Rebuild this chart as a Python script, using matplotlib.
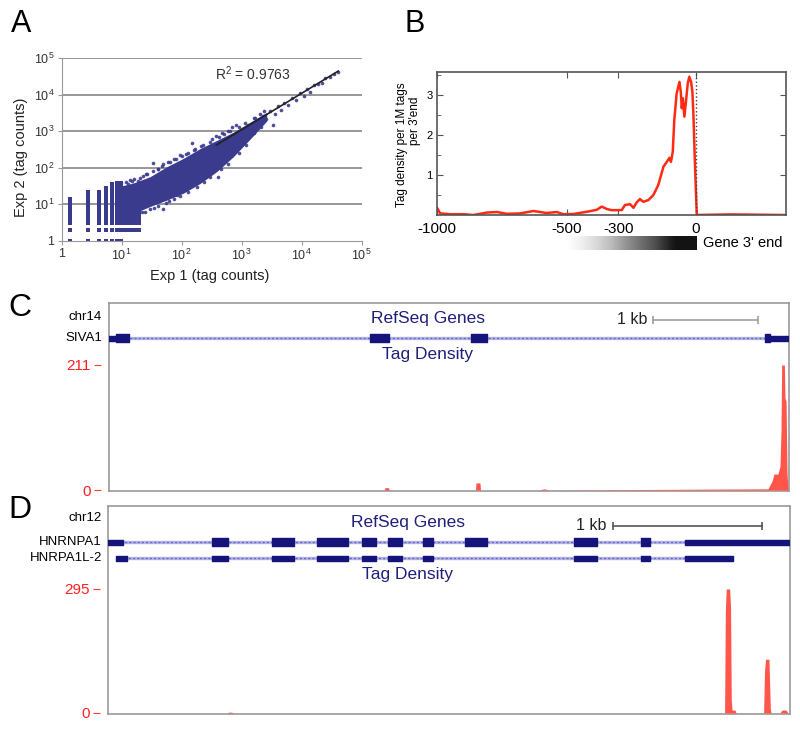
import numpy as np
import matplotlib
matplotlib.use('Agg')
import matplotlib.pyplot as plt

plt.rcParams['font.family'] = ['Liberation Sans', 'DejaVu Sans']
plt.rcParams['mathtext.default'] = 'regular'

# ---- panel A data (tag counts, log-log) ----
decades = [1, 10, 100, 1000, 10000, 100000]
dec_labels = ['1', '$10^1$', '$10^2$', '$10^3$', '$10^4$', '$10^5$']
# discrete low-count columns (normalised counts) and their integer y-range
col_x = [1.4, 2.8, 4.2, 5.6, 7.0, 8.4, 9.8, 11.2, 12.6, 14.0, 15.4, 16.8, 18.2, 19.6]
col_lo = [1, 1, 1, 1, 1, 1, 1, 2, 2, 2, 2, 2, 2, 2]
col_hi = [14, 21, 22, 28, 35, 37, 38, 12, 12, 11, 10, 10, 9, 8]
# dense cloud envelope
cloud_x = [10, 13, 17, 22, 30, 57, 107, 204, 385, 730, 1380, 2630]
cloud_hi = [32, 35, 40, 47, 57, 107, 180, 335, 560, 940, 1760, 3300]
cloud_lo = [5, 5.5, 6, 7, 8.7, 13, 20, 37, 78, 200, 600, 1900]
# scattered points around the cloud and along the upper tail
out_x = [9.8, 12.6, 14, 16, 19, 23, 26, 34, 40, 48, 60, 75, 95, 120, 148, 160, 210, 262, 320, 380,
         480, 600, 700, 800, 17, 25, 35, 50, 62, 85, 120, 160, 240, 330, 410, 520, 800, 1050,
         12, 15, 20, 27, 33, 40, 50, 65, 80, 100, 130, 170, 230, 300, 420, 520, 640, 900, 1150,
         1600, 2000, 2400, 22, 30, 40, 55, 75, 95, 130, 180, 240, 300, 450, 600, 900, 1200, 1600, 2100,
         1100, 1300, 1500, 1700, 1800, 2000, 2300, 2600, 3000, 3400, 3600, 4000, 4500, 5200,
         6000, 7000, 8000, 9500, 11000, 12500, 14000, 16000, 19000, 22000, 25000, 30000, 35000, 40000]
out_y = [38, 36, 45, 48, 44, 60, 68, 132, 95, 115, 145, 175, 230, 240, 480, 310, 400, 200, 600, 720,
         900, 1000, 1350, 1500, 5, 6, 8, 7.2, 12, 18, 26, 45, 85, 150, 57, 240, 440, 650,
         40, 42, 52, 66, 80, 95, 125, 140, 170, 215, 260, 330, 420, 520, 700, 820, 1000, 1300, 1700,
         2300, 2900, 3600, 6, 7.5, 9, 11, 14, 17, 22, 30, 40, 55, 90, 130, 260, 420, 900, 1300,
         900, 1500, 1200, 2240, 1600, 1900, 2600, 2200, 3500, 1480, 3000, 4800, 3800, 6000,
         5200, 8000, 7000, 11000, 9500, 14000, 12000, 18000, 20000, 21000, 28000, 31000, 36000, 42000]
fit_x = [380, 41000]
fit_y = [418, 44600]

# ---- panel B data (tag density around gene 3' end) ----
b_x = [-1000, -989, -951, -899, -860, -809, -770, -731, -680, -628, -577, -538, -512, -474, -422,
       -383, -364, -344, -325, -286, -274, -254, -241, -228, -216, -203, -183, -164, -145, -125,
       -112, -102, -96, -89, -83, -74, -63, -58, -54, -50, -44, -38, -31, -25, -18, -13, -9, -3,
       4, 133, 348]
b_y = [0.17, 0.04, 0.02, 0.02, 0.0, 0.06, 0.075, 0.03, 0.04, 0.1, 0.05, 0.075, 0.02, 0.025, 0.08,
       0.13, 0.21, 0.15, 0.12, 0.125, 0.25, 0.27, 0.18, 0.32, 0.40, 0.33, 0.375, 0.5, 0.75, 1.21,
       1.33, 1.43, 1.33, 1.58, 2.38, 3.04, 3.33, 3.08, 2.67, 2.92, 2.46, 2.83, 3.29, 3.46, 3.33, 3.08,
       2.5, 1.25, 0.0, 0.015, 0.0]
b_ticks = [-1000, -500, -300, 0]

# ---- panel C data (SIVA1, bp) ----
c_len = 6476
c_exons = [(67, 190), (2486, 2667), (3448, 3600), (6248, 6295)]
c_utrs = [(0, 67), (6295, 6476)]
c_pos = [0, 2620, 2630, 2660, 2670, 3490, 3495, 3533, 3538, 4100, 4143, 4190, 6276, 6314, 6333,
         6371, 6390, 6400, 6406, 6432, 6438, 6448, 6457, 6467, 6476]
c_val = [0, 0, 4, 4, 0, 0, 12, 12, 0, 0, 2, 0, 2, 15, 27,
         27, 40, 100, 211, 211, 155, 150, 30, 0, 0]
c_max = 211
c_bar = (5181, 6181)

# ---- panel D data (HNRNPA1 / HNRPA1L-2, bp) ----
d_len = 4577
a1_exons = [(698, 805), (1101, 1248), (1403, 1611), (1705, 1799), (1879, 1973), (2114, 2181),
            (2396, 2544), (3127, 3282), (3577, 3637)]
a1_utrs = [(0, 101), (3872, 4577)]
l2_exons = [(54, 128), (698, 805), (1101, 1248), (1403, 1611), (1705, 1799), (1879, 1973),
            (2114, 2181), (3127, 3282), (3577, 3637), (3872, 4195)]
l2_span = (54, 4195)
d_pos = [0, 800, 810, 830, 840, 4138, 4143, 4149, 4172, 4178, 4183, 4188, 4208, 4215,
         4400, 4406, 4413, 4436, 4441, 4445, 4450, 4510, 4523, 4550, 4564, 4577]
d_val = [0, 0, 2, 2, 0, 0, 240, 295, 295, 250, 30, 7, 7, 0,
         0, 100, 128, 128, 60, 10, 0, 0, 7, 7, 0, 0]
d_max = 295
d_bar = (3389, 4389)

W, H = 800, 730
def box(l, t, r, b):
    return [l / W, 1 - b / H, (r - l) / W, (b - t) / H]
def ftext(x, y, s, **kw):
    fig.text(x / W, 1 - y / H, s, **kw)

dot = '#3b3b8e'
navy = '#14147a'
sig = '#ff554a'

fig = plt.figure(figsize=(8, 7.3), dpi=100)

# ================= A =================
ax = fig.add_axes(box(61.5, 58.3, 361.5, 240.7))
ax.set_xscale('log')
ax.set_yscale('log')
for d in decades[1:]:
    ax.axhline(d, color='#7a7a7a', lw=1.1, zorder=0)
px, py = [], []
for x, lo, hi in zip(col_x, col_lo, col_hi):
    for yv in range(lo, hi + 1):
        px.append(x)
        py.append(yv)
ax.plot(px, py, 's', ms=2.2, color=dot, mew=0)
ax.fill_between(cloud_x, cloud_lo, cloud_hi, color=dot, lw=0)
ax.plot(out_x, out_y, 'o', ms=2.6, color=dot, mew=0, alpha=0.9)
ax.plot(fit_x, fit_y, color='#222222', lw=1.2)
ax.set_xlim(1, 1e5)
ax.set_ylim(1, 1e5)
ax.set_xticks(decades)
ax.set_xticklabels(dec_labels)
ax.set_yticks(decades)
ax.set_yticklabels(dec_labels)
ax.xaxis.set_minor_locator(matplotlib.ticker.NullLocator())
ax.yaxis.set_minor_locator(matplotlib.ticker.NullLocator())
ax.tick_params(length=3, color='#999999', labelsize=9, labelcolor='#333333', pad=2)
for s in ['top', 'right']:
    ax.spines[s].set_visible(False)
for s in ['left', 'bottom']:
    ax.spines[s].set_color('#999999')
ftext(253, 74, 'R$^2$ = 0.9763', ha='center', va='center', fontsize=10, color='#333333')
ftext(210, 276, 'Exp 1 (tag counts)', ha='center', va='center', fontsize=10.5, color='#222222')
ftext(21, 157, 'Exp 2 (tag counts)', ha='center', va='center', fontsize=10.5, color='#222222', rotation=90)

# ================= B =================
axb = fig.add_axes(box(437.3, 72.3, 785.7, 215))
axb.plot(b_x, b_y, color='#ff2a12', lw=1.8)
axb.axvline(0, color='#444444', ls=':', lw=1)
axb.set_xlim(-1000, 348)
axb.set_ylim(0, 3.57)
axb.set_xticks(b_ticks)
axb.set_xticklabels([str(t) for t in b_ticks])
axb.set_yticks([1, 2, 3])
axb.set_yticks([0.5, 1.5, 2.5, 3.5], minor=True)
axb.tick_params(direction='in', length=4, top=True, right=True, labelsize=8, color='#555555')
axb.tick_params(which='minor', direction='in', length=3, color='#555555')
axb.tick_params(axis='x', labelsize=11, pad=5)
for s in axb.spines.values():
    s.set_color('#555555')
    s.set_linewidth(1.2)
ftext(402, 145, 'Tag density per 1M tags', ha='center', va='center', fontsize=8.5, rotation=90)
ftext(415, 121, "per 3'end", ha='center', va='center', fontsize=8.5, rotation=90)

axg = fig.add_axes(box(566.5, 236, 695.7, 250))
ramp = np.clip(np.linspace(0, 1.2, 300), 0, 1) * 0.93
axg.imshow(ramp[None, :], aspect='auto', cmap='Greys', vmin=0, vmax=1)
axg.axis('off')
ftext(703, 243, "Gene 3' end", ha='left', va='center', fontsize=10.5)


# ================= C / D gene tracks =================
def track(frame, length, rows, title_x, title_y, dens_y, bar, bar_y, bar_col):
    frame.set_xlim(0, length)
    frame.set_xticks([])
    frame.set_yticks([])
    for s in frame.spines.values():
        s.set_color('#9a9a9a')
        s.set_linewidth(1.2)
    for (y, span, exons, eh, utrs) in rows:
        frame.plot(span, [y, y], color='#b4b4e8', lw=2.4, solid_capstyle='butt', zorder=1)
        frame.plot(span, [y, y], color='#6a6ac0', lw=1.0, ls=(0, (1.5, 1.5)), zorder=2)
        frame.broken_barh([(a, b - a) for a, b in exons], (y - eh / 2, eh), color=navy, zorder=3)
        if utrs:
            frame.broken_barh([(a, b - a) for a, b in utrs], (y - 2.5, 5), color=navy, zorder=3)
    frame.text(title_x, title_y, 'RefSeq Genes', ha='center', va='center', fontsize=12.5, color='#20207a')
    frame.text(title_x, dens_y, 'Tag Density', ha='center', va='center', fontsize=12.5, color='#20207a')
    frame.plot(bar, [bar_y, bar_y], color=bar_col, lw=1.2)
    frame.plot(bar, [bar_y, bar_y], '|', color=bar_col, ms=6, mew=1.2)
    frame.text(bar[0] - 0.009 * length, bar_y, '1 kb', ha='right', va='center', fontsize=11.5, color='#222222')


def signal(sax, length, pos, val, vmax):
    sax.fill_between(pos, val, color=sig, lw=0)
    sax.set_xlim(0, length)
    sax.set_ylim(0, vmax)
    sax.patch.set_alpha(0)
    for s in sax.spines.values():
        s.set_visible(False)
    sax.spines['left'].set_position(('outward', 6))
    sax.set_xticks([])
    sax.set_yticks([0, vmax])
    sax.set_yticklabels(['0', str(vmax)])
    sax.tick_params(axis='y', length=5, color='#ff3b30', labelcolor='#ff2020', labelsize=11, pad=2)


# C
fc = fig.add_axes(box(109, 303, 789, 491))
fc.set_ylim(188, 0)
track(fc, c_len, [(35, (0, c_len), c_exons, 8, c_utrs)], 3038, 16, 52, c_bar, 17, '#a0a0a0')
sc = fig.add_axes(box(109, 365, 789, 490))
signal(sc, c_len, c_pos, c_val, c_max)
ftext(102, 317, 'chr14', ha='right', va='center', fontsize=9.5)
ftext(102, 338, 'SIVA1', ha='right', va='center', fontsize=9.5)

# D
fd = fig.add_axes(box(108, 506, 790, 714))
fd.set_ylim(208, 0)
track(fd, d_len, [(36, (0, d_len), a1_exons, 8, a1_utrs), (52, l2_span, l2_exons, 5, None)],
      2012, 17, 68, d_bar, 20, '#555555')
sd = fig.add_axes(box(108, 589, 790, 713))
signal(sd, d_len, d_pos, d_val, d_max)
ftext(102, 518, 'chr12', ha='right', va='center', fontsize=9.5)
ftext(102, 542, 'HNRNPA1', ha='right', va='center', fontsize=9.5)
ftext(102, 558, 'HNRPA1L-2', ha='right', va='center', fontsize=9.5)

# panel letters
ftext(21, 24, 'A', ha='center', va='center', fontsize=22)
ftext(415, 24, 'B', ha='center', va='center', fontsize=22)
ftext(20, 308, 'C', ha='center', va='center', fontsize=23)
ftext(20, 510, 'D', ha='center', va='center', fontsize=23)

fig.savefig('out.png', dpi=100)
